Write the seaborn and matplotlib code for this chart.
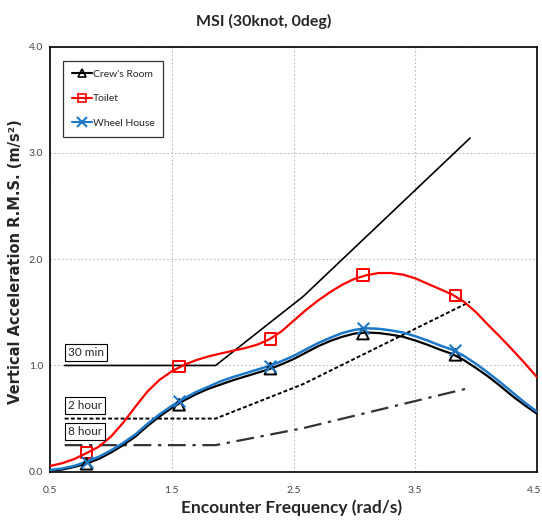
import numpy as np
import pandas as pd
import matplotlib
matplotlib.use("Agg")
import matplotlib.pyplot as plt
import matplotlib.transforms as mtransforms
import seaborn as sns
from matplotlib.ticker import FixedLocator, FormatStrFormatter
from matplotlib.lines import Line2D

sns.set_style("white")
NARROW = ["Lato", "DejaVu Sans"]

# ---- data ----
freq = [0.5, 0.6, 0.7, 0.8, 0.9, 1.0, 1.1, 1.2, 1.3, 1.4, 1.5, 1.6, 1.7, 1.8, 1.9,
        2.0, 2.1, 2.2, 2.3, 2.4, 2.5, 2.6, 2.7, 2.8, 2.9, 3.0, 3.1, 3.2, 3.3, 3.4,
        3.5, 3.6, 3.7, 3.8, 3.9, 4.0, 4.1, 4.2, 4.3, 4.4, 4.5]
crew = [0.01, 0.02, 0.045, 0.078, 0.12, 0.18, 0.25, 0.33, 0.43, 0.52, 0.60, 0.67, 0.73,
        0.78, 0.82, 0.86, 0.895, 0.93, 0.965, 1.01, 1.06, 1.12, 1.18, 1.23, 1.27, 1.30,
        1.31, 1.305, 1.29, 1.27, 1.235, 1.195, 1.15, 1.11, 1.05, 0.975, 0.895, 0.805,
        0.71, 0.625, 0.545]
toilet = [0.054, 0.08, 0.12, 0.175, 0.235, 0.33, 0.46, 0.61, 0.755, 0.865, 0.945, 1.005,
          1.05, 1.085, 1.112, 1.138, 1.163, 1.195, 1.245, 1.32, 1.42, 1.52, 1.61, 1.69, 1.76,
          1.815, 1.85, 1.87, 1.87, 1.855, 1.82, 1.77, 1.72, 1.67, 1.60, 1.50, 1.38, 1.265,
          1.145, 1.02, 0.89]
wheel = [0.016, 0.03, 0.055, 0.094, 0.14, 0.20, 0.27, 0.35, 0.45, 0.54, 0.62, 0.69,
         0.75, 0.80, 0.85, 0.89, 0.925, 0.96, 0.995, 1.04, 1.09, 1.15, 1.21, 1.26, 1.305,
         1.335, 1.35, 1.345, 1.33, 1.31, 1.275, 1.235, 1.19, 1.15, 1.09, 1.015, 0.93, 0.84,
         0.745, 0.65, 0.565]

mark_x = [0.8, 1.56, 2.31, 3.07, 3.83]
crew_mark = [0.075, 0.63, 0.97, 1.30, 1.10]
toilet_mark = [0.18, 0.99, 1.25, 1.85, 1.66]
wheel_mark = [0.094, 0.665, 0.995, 1.35, 1.145]

crit_x = [0.62, 1.86, 2.58, 3.95]
min30 = [1.0, 1.0, 1.65, 3.14]
hour2 = [0.5, 0.5, 0.825, 1.6]
hour8 = [0.25, 0.25, 0.41, 0.79]
crit_labels = ["30 min", "2 hour", "8 hour"]
crit_label_y = [1.12, 0.62, 0.38]

series_names = ["Crew's Room", "Toilet", "Wheel House"]
colors = ["black", "#ff0000", "#1c78c8"]
markers = ["^", "s", "x"]

x_ticks = [0.5, 1.5, 2.5, 3.5, 4.5]
y_ticks = [0.0, 1.0, 2.0, 3.0, 4.0]

# ---- figure ----
fig = plt.figure(figsize=(5.42, 5.25), dpi=100)
ax = fig.add_axes([0.0923, 0.1015, 0.8985, 0.8095])

# criterion lines
ax.plot(crit_x, min30, color="black", lw=1.2, zorder=2)
ax.plot(crit_x, hour2, color="black", lw=1.4, ls=(0, (2, 1.2)), zorder=2)
ax.plot(crit_x, hour8, color="#333333", lw=1.6, ls=(0, (8, 3, 1.5, 3)), zorder=2)

curves = [crew, toilet, wheel]
marks = [crew_mark, toilet_mark, wheel_mark]
for i in [1, 0, 2]:
    df = pd.DataFrame({"x": freq, "y": curves[i]})
    sns.lineplot(data=df, x="x", y="y", ax=ax, color=colors[i], lw=1.6 if i != 2 else 1.8,
                 zorder=3 + i, legend=False)
    dm = pd.DataFrame({"x": mark_x, "y": marks[i]})
    if markers[i] == "x":
        sns.scatterplot(data=dm, x="x", y="y", ax=ax, marker="x", s=70,
                        color=colors[i], linewidth=1.5, zorder=6, legend=False)
    else:
        sns.scatterplot(data=dm, x="x", y="y", ax=ax, marker=markers[i], s=70,
                        facecolor="none", edgecolor=colors[i], linewidth=1.4,
                        zorder=6, legend=False)

# legend proxies
handles = []
for i in range(3):
    if markers[i] == "x":
        h = Line2D([], [], color=colors[i], marker="x", ms=7, mew=1.5, lw=1.5)
    else:
        h = Line2D([], [], color=colors[i], marker=markers[i], ms=6, mfc="none",
                   mec=colors[i], mew=1.2, lw=1.5)
    handles.append(h)
leg = ax.legend(handles, series_names, loc="upper left", bbox_to_anchor=(0.027, 0.967),
                borderaxespad=0.0,
                frameon=True, fancybox=False, edgecolor="black", handlelength=1.9,
                labelspacing=1.45, borderpad=0.85, handletextpad=0.1,
                prop={"family": NARROW, "size": 7.5})
leg.get_frame().set_linewidth(0.9)

# criterion labels
for lab, yv in zip(crit_labels, crit_label_y):
    ax.text(0.645, yv, lab, fontsize=8.5, family=NARROW, va="center", ha="left",
            bbox=dict(boxstyle="square,pad=0.25", fc="white", ec="black", lw=0.8), zorder=7)

ax.set_xlim(0.5, 4.5)
ax.set_ylim(0.0, 4.0)
ax.xaxis.set_major_locator(FixedLocator(x_ticks))
ax.xaxis.set_minor_locator(FixedLocator([1.0, 2.0, 3.0, 4.0]))
ax.yaxis.set_major_locator(FixedLocator(y_ticks))
ax.yaxis.set_minor_locator(FixedLocator([0.5, 1.5, 2.5, 3.5]))
ax.xaxis.set_major_formatter(FormatStrFormatter("%.1f"))
ax.yaxis.set_major_formatter(FormatStrFormatter("%.1f"))
for lbl in ax.get_xticklabels() + ax.get_yticklabels():
    lbl.set_family(NARROW)
ax.tick_params(axis="both", which="both", labelsize=7.5, labelcolor="#444444",
               color="#444444", direction="out")
ax.tick_params(axis="x", which="major", length=0, pad=10)
ax.tick_params(axis="x", which="minor", length=4, direction="inout")
ax.tick_params(axis="y", which="major", length=0, pad=5)
ax.tick_params(axis="y", which="minor", length=4)
ax.grid(True, which="major", color="#bbbbbb", ls=(0, (1.5, 2)), lw=0.8)
for s in ax.spines.values():
    s.set_visible(True)
    s.set_color("black")
    s.set_linewidth(1.2)

# keep the last x tick label inside the figure
last = ax.get_xticklabels()[-1]
last.set_horizontalalignment("right")
last.set_transform(last.get_transform() +
                   mtransforms.ScaledTranslation(4 / 100, 0, fig.dpi_scale_trans))

ax.set_xlabel("Encounter Frequency (rad/s)", fontsize=12.5, fontweight="bold",
              family=NARROW)
ax.xaxis.set_label_coords(0.497, -0.066)
ax.set_ylabel("Vertical Acceleration R.M.S. (m/s²)", fontsize=10.5, fontweight="bold",
              family=["DejaVu Sans"])
ax.yaxis.set_label_coords(-0.055, 0.495)
fig.text(0.487, 0.960, "MSI (30knot, 0deg)", fontsize=11.5, fontweight="bold",
         family=NARROW, ha="center", va="center")

fig.savefig("out.png", dpi=100)
